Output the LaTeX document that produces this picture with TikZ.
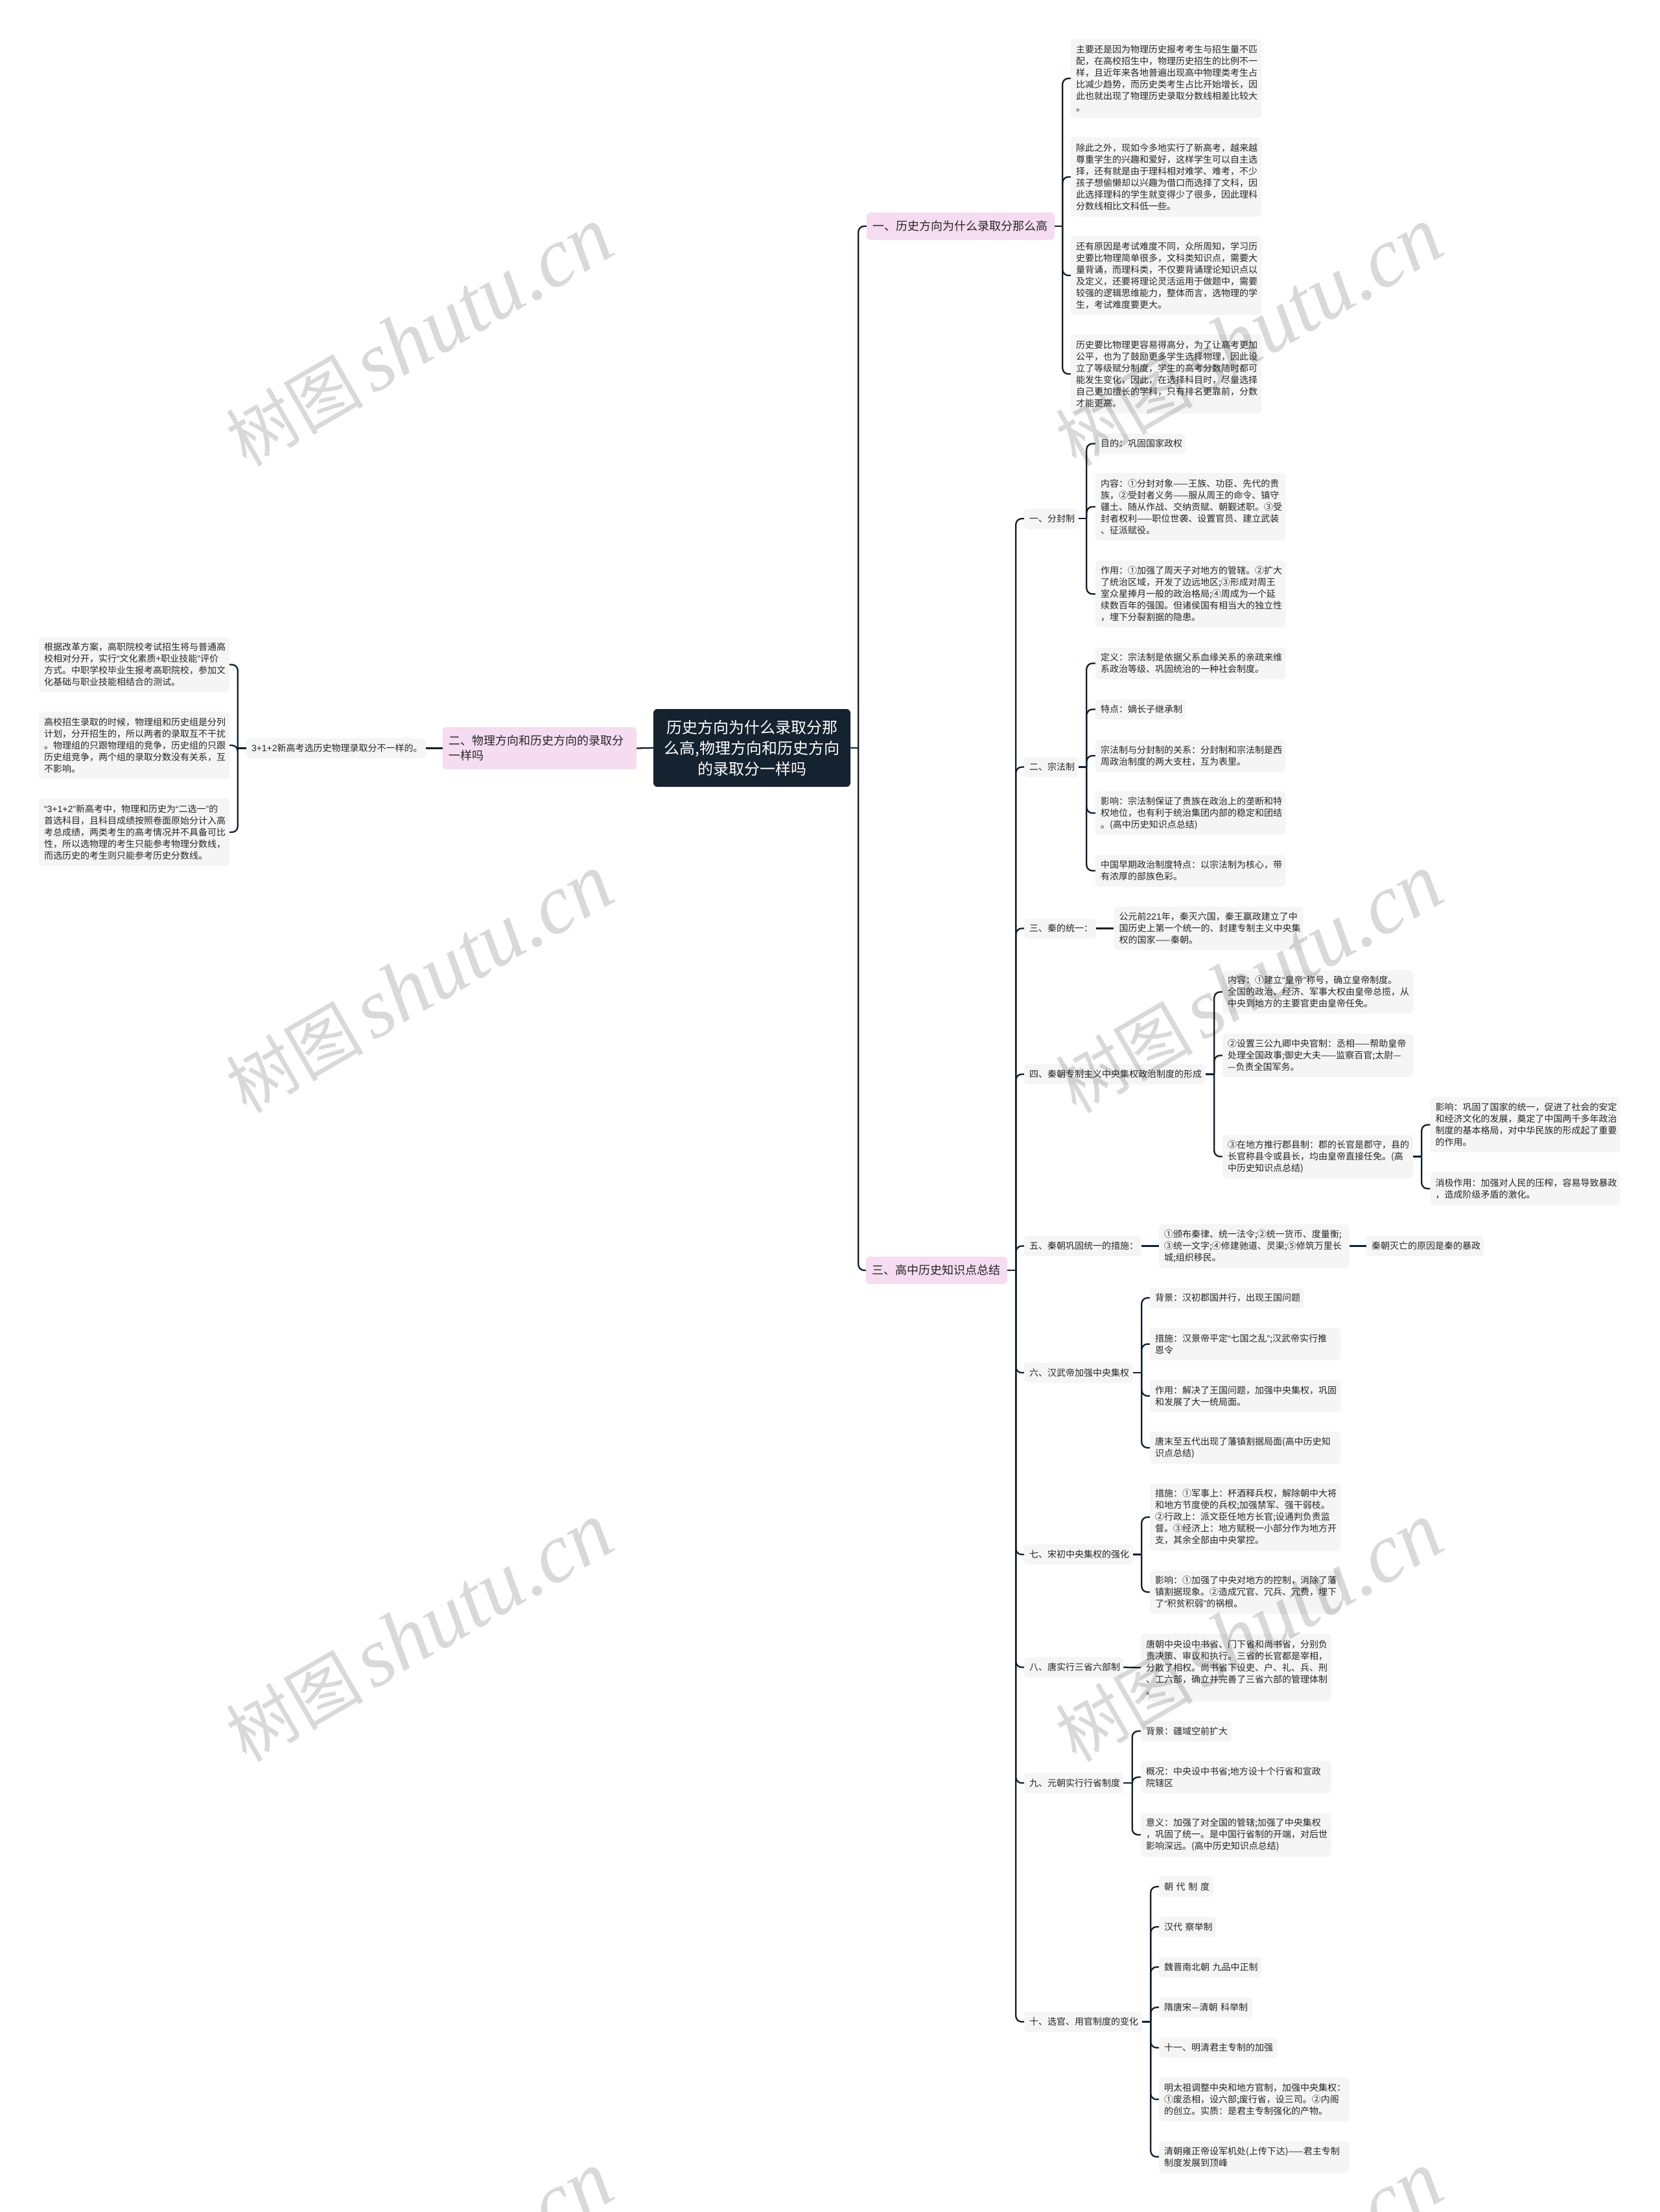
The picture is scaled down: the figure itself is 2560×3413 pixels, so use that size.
\documentclass[tikz,border=0pt]{standalone}
\usepackage{fontspec}
\setmainfont{Noto Sans CJK SC}
\newfontfamily\latf{Liberation Sans}
\newfontfamily\wmlat{Liberation Serif}
\newcommand{\qlo}{{\latf “}}
\newcommand{\qrc}{{\latf ”}}
\definecolor{inkline}{HTML}{0F1E2D}
\definecolor{rootfill}{HTML}{15222F}
\definecolor{branchfill}{HTML}{F5DCF0}
\definecolor{leaffill}{HTML}{F5F5F5}
\definecolor{leaftext}{HTML}{262626}
\tikzset{
  x=1pt,y=-1pt,
  boxbase/.style={rectangle,rounded corners=6pt,inner xsep=8pt,inner ysep=0pt,align=left},
  leafbox/.style={boxbase,fill=leaffill,text=leaftext,font=\fontsize{14}{18}\selectfont},
  branchbox/.style={boxbase,fill=branchfill,text=black!85,inner xsep=9pt,font=\fontsize{18}{23}\selectfont},
  rootbox/.style={boxbase,fill=rootfill,text=white,align=center,font=\fontsize{24}{32}\selectfont},
  link/.style={draw=inkline,line width=2.3pt},
  wmark/.style={text=black,text opacity=0.15,rotate=30,inner sep=0pt},
}
\newcommand{\nd}[7]{%
  \pgfmathsetmacro\cx{(#3+#5)/2}\pgfmathsetmacro\cy{(#4+#6)/2}%
  \pgfmathsetmacro\ww{#5-#3}\pgfmathsetmacro\hh{#6-#4}\pgfmathsetmacro\tw{#5-#3-16}%
  \node[#2,minimum width=\ww pt,minimum height=\hh pt,text width=\tw pt] (#1) at (\cx,\cy) {#7};}
\newcommand{\busR}[3]{%
  \draw[link] (#1.east) -- ++(#2,0) coordinate (t#1);
  \foreach \c in {#3} {\draw[link,rounded corners=9pt] (t#1) |- (\c.west);}}
\newcommand{\busL}[3]{%
  \draw[link] (#1.west) -- ++(-#2,0) coordinate (t#1);
  \foreach \c in {#3} {\draw[link,rounded corners=9pt] (t#1) |- (\c.east);}}
\begin{document}
\begin{tikzpicture}
\useasboundingbox (0,0) rectangle (2560,3413);
\fill[white] (0,0) rectangle (2560,3413);
% root
\nd{root}{rootbox}{1008}{1094}{1312}{1214}{历史方向为什么录取分那\\么高,物理方向和历史方向\\的录取分一样吗}
% branches
\nd{ba}{branchbox}{1338}{328}{1626}{370}{一、历史方向为什么录取分那么高}
\nd{bb}{branchbox}{684}{1122}{981}{1187}{二、物理方向和历史方向的录取分\\一样吗}
\nd{bc}{branchbox}{1337}{1939}{1553}{1981}{三、高中历史知识点总结}
% section 1 leaves
\nd{a1}{leafbox}{1652}{60}{1946}{182}{主要还是因为物理历史报考考生与招生量不匹\\配，在高校招生中，物理历史招生的比例不一\\样，且近年来各地普遍出现高中物理类考生占\\比减少趋势，而历史类考生占比开始增长，因\\此也就出现了物理历史录取分数线相差比较大\\。}
\nd{a2}{leafbox}{1652}{212}{1946}{334}{除此之外，现如今多地实行了新高考，越来越\\尊重学生的兴趣和爱好，这样学生可以自主选\\择，还有就是由于理科相对难学、难考，不少\\孩子想偷懒却以兴趣为借口而选择了文科，因\\此选择理科的学生就变得少了很多，因此理科\\分数线相比文科低一些。}
\nd{a3}{leafbox}{1652}{364}{1946}{486}{还有原因是考试难度不同，众所周知，学习历\\史要比物理简单很多，文科类知识点，需要大\\量背诵，而理科类，不仅要背诵理论知识点以\\及定义，还要将理论灵活运用于做题中，需要\\较强的逻辑思维能力，整体而言，选物理的学\\生，考试难度要更大。}
\nd{a4}{leafbox}{1652}{516}{1946}{638}{历史要比物理更容易得高分，为了让高考更加\\公平，也为了鼓励更多学生选择物理，因此设\\立了等级赋分制度，学生的高考分数随时都可\\能发生变化，因此，在选择科目时，尽量选择\\自己更加擅长的学科，只有排名更靠前，分数\\才能更高。}
% left side
\nd{l0}{leafbox}{380}{1139}{657}{1170}{{\latf 3+1+2}新高考选历史物理录取分不一样的。}
\nd{l1}{leafbox}{60}{983}{354}{1068}{根据改革方案，高职院校考试招生将与普通高\\校相对分开，实行\qlo 文化素质+职业技能\qrc 评价\\方式。中职学校毕业生报考高职院校，参加文\\化基础与职业技能相结合的测试。}
\nd{l2}{leafbox}{60}{1098}{354}{1202}{高校招生录取的时候，物理组和历史组是分列\\计划，分开招生的，所以两者的录取互不干扰\\。物理组的只跟物理组的竞争，历史组的只跟\\历史组竞争，两个组的录取分数没有关系，互\\不影响。}
\nd{l3}{leafbox}{60}{1232}{354}{1336}{\qlo{\latf 3+1+2}\qrc 新高考中，物理和历史为\qlo 二选一\qrc 的\\首选科目，且科目成绩按照卷面原始分计入高\\考总成绩，两类考生的高考情况并不具备可比\\性，所以选物理的考生只能参考物理分数线，\\而选历史的考生则只能参考历史分数线。}
% section 3 level 2
\nd{s1}{leafbox}{1580}{784.5}{1663.6}{816}{一、分封制}
\nd{s2}{leafbox}{1580}{1168}{1663.6}{1199}{二、宗法制}
\nd{s3}{leafbox}{1580}{1417}{1691}{1448}{三、秦的统一：}
\nd{s4}{leafbox}{1580}{1642}{1859.5}{1673}{四、秦朝专制主义中央集权政治制度的形成}
\nd{s5}{leafbox}{1580}{1907}{1761}{1938}{五、秦朝巩固统一的措施：}
\nd{s6}{leafbox}{1580}{2102.5}{1748}{2133.5}{六、汉武帝加强中央集权}
\nd{s7}{leafbox}{1580}{2383}{1748}{2414}{七、宋初中央集权的强化}
\nd{s8}{leafbox}{1580}{2557}{1733}{2588}{八、唐实行三省六部制}
\nd{s9}{leafbox}{1580}{2735}{1733}{2767}{九、元朝实行行省制度}
\nd{s10}{leafbox}{1580}{3104}{1762}{3135}{十、选官、用官制度的变化}
% s1 children
\nd{c11}{leafbox}{1690}{669}{1829}{700}{目的：巩固国家政权}
\nd{c12}{leafbox}{1690}{730}{1983.5}{834}{内容：①分封对象——王族、功臣、先代的贵\\族，②受封者义务——服从周王的命令、镇守\\疆土、随从作战、交纳贡赋、朝觐述职。③受\\封者权利——职位世袭、设置官员、建立武装\\、征派赋役。}
\nd{c13}{leafbox}{1690}{865}{1983.5}{968}{作用：①加强了周天子对地方的管辖。②扩大\\了统治区域，开发了边远地区;③形成对周王\\室众星捧月一般的政治格局;④周成为一个延\\续数百年的强国。但诸侯国有相当大的独立性\\，埋下分裂割据的隐患。}
% s2 children
\nd{c21}{leafbox}{1690}{999}{1983.5}{1048}{定义：宗法制是依据父系血缘关系的亲疏来维\\系政治等级、巩固统治的一种社会制度。}
\nd{c22}{leafbox}{1690}{1079}{1829}{1110}{特点：嫡长子继承制}
\nd{c23}{leafbox}{1690}{1141}{1983.5}{1191}{宗法制与分封制的关系：分封制和宗法制是西\\周政治制度的两大支柱，互为表里。}
\nd{c24}{leafbox}{1690}{1221}{1983.5}{1288}{影响：宗法制保证了贵族在政治上的垄断和特\\权地位，也有利于统治集团内部的稳定和团结\\。(高中历史知识点总结)}
\nd{c25}{leafbox}{1690}{1319}{1983.5}{1368}{中国早期政治制度特点：以宗法制为核心，带\\有浓厚的部族色彩。}
% s3
\nd{c31}{leafbox}{1718.6}{1399}{2010.6}{1466}{公元前{\latf 221}年，秦灭六国，秦王嬴政建立了中\\国历史上第一个统一的、封建专制主义中央集\\权的国家——秦朝。}
% s4
\nd{c41}{leafbox}{1886}{1497}{2180}{1564}{内容：①建立\qlo 皇帝\qrc 称号，确立皇帝制度。\\全国的政治、经济、军事大权由皇帝总揽，从\\中央到地方的主要官吏由皇帝任免。}
\nd{c42}{leafbox}{1886}{1595}{2180}{1662}{②设置三公九卿中央官制：丞相——帮助皇帝\\处理全国政事;御史大夫——监察百官;太尉—\\—负责全国军务。}
\nd{c43}{leafbox}{1886}{1751}{2180}{1818}{③在地方推行郡县制：郡的长官是郡守，县的\\长官称县令或县长，均由皇帝直接任免。(高\\中历史知识点总结)}
\nd{c431}{leafbox}{2206.5}{1693}{2499}{1778}{影响：巩固了国家的统一，促进了社会的安定\\和经济文化的发展，奠定了中国两千多年政治\\制度的基本格局，对中华民族的形成起了重要\\的作用。}
\nd{c432}{leafbox}{2206.5}{1809}{2499}{1859}{消极作用：加强对人民的压榨，容易导致暴政\\，造成阶级矛盾的激化。}
% s5
\nd{c51}{leafbox}{1788}{1889}{2081.5}{1956}{①颁布秦律、统一法令;②统一货币、度量衡;\\③统一文字;④修建驰道、灵渠;⑤修筑万里长\\城;组织移民。}
\nd{c52}{leafbox}{2108}{1907}{2289}{1938}{秦朝灭亡的原因是秦的暴政}
% s6
\nd{c61}{leafbox}{1774}{1987}{2011.5}{2018}{背景：汉初郡国并行，出现王国问题}
\nd{c62}{leafbox}{1774}{2049}{2068}{2098.6}{措施：汉景帝平定\qlo 七国之乱\qrc;汉武帝实行推\\恩令}
\nd{c63}{leafbox}{1774}{2129}{2068}{2178.6}{作用：解决了王国问题，加强中央集权，巩固\\和发展了大一统局面。}
\nd{c64}{leafbox}{1774}{2209}{2068}{2258.6}{唐末至五代出现了藩镇割据局面(高中历史知\\识点总结)}
% s7
\nd{c71}{leafbox}{1774}{2289}{2068}{2392.5}{措施：①军事上：杯酒释兵权，解除朝中大将\\和地方节度使的兵权;加强禁军、强干弱枝。\\②行政上：派文臣任地方长官;设通判负责监\\督。③经济上：地方赋税一小部分作为地方开\\支，其余全部由中央掌控。}
\nd{c72}{leafbox}{1774}{2423}{2068}{2490}{影响：①加强了中央对地方的控制，消除了藩\\镇割据现象。②造成冗官、冗兵、冗费，埋下\\了\qlo 积贫积弱\qrc 的祸根。}
% s8
\nd{c81}{leafbox}{1760}{2521}{2053.6}{2625}{唐朝中央设中书省、门下省和尚书省，分别负\\责决策、审议和执行。三省的长官都是宰相，\\分散了相权。尚书省下设吏、户、礼、兵、刑\\、工六部，确立并完善了三省六部的管理体制\\。}
% s9
\nd{c91}{leafbox}{1760}{2655}{1900}{2687}{背景：疆域空前扩大}
\nd{c92}{leafbox}{1760}{2717}{2053.6}{2767}{概况：中央设中书省;地方设十个行省和宣政\\院辖区}
\nd{c93}{leafbox}{1760}{2797}{2053.6}{2865}{意义：加强了对全国的管辖;加强了中央集权\\，巩固了统一。是中国行省制的开端，对后世\\影响深远。(高中历史知识点总结)}
% s10
\nd{d1}{leafbox}{1788}{2895}{1872}{2927}{\mbox{朝 代 制 度}}
\nd{d2}{leafbox}{1788}{2957}{1876}{2989}{\mbox{汉代 察举制}}
\nd{d3}{leafbox}{1788}{3019}{1945.7}{3051}{\mbox{魏晋南北朝 九品中正制}}
\nd{d4}{leafbox}{1788}{3081.5}{1932}{3113}{\mbox{隋唐宋—清朝 科举制}}
\nd{d5}{leafbox}{1788}{3144}{1970}{3175}{十一、明清君主专制的加强}
\nd{d6}{leafbox}{1788}{3205.5}{2081.5}{3273}{明太祖调整中央和地方官制，加强中央集权：\\①废丞相，设六部;废行省，设三司。②内阁\\的创立。实质：是君主专制强化的产物。}
\nd{d7}{leafbox}{1788}{3303}{2081.5}{3352.6}{清朝雍正帝设军机处(上传下达)——君主专制\\制度发展到顶峰}
% connectors
\busR{root}{12}{ba,bc}
\draw[link] (root.west) -- (bb.east);
\draw[link] (bb.west) -- (l0.east);
\busL{l0}{13}{l1,l2,l3}
\busR{ba}{12}{a1,a2,a3,a4}
\busR{bc}{13}{s1,s2,s3,s4,s5,s6,s7,s8,s9,s10}
\busR{s1}{12.5}{c11,c12,c13}
\busR{s2}{12.5}{c21,c22,c23,c24,c25}
\draw[link] (s3.east) -- (c31.west);
\busR{s4}{13.5}{c41,c42,c43}
\busR{c43}{13}{c431,c432}
\draw[link] (s5.east) -- (c51.west);
\draw[link] (c51.east) -- (c52.west);
\busR{s6}{13}{c61,c62,c63,c64}
\busR{s7}{13}{c71,c72}
\draw[link] (s8.east) -- (c81.west);
\busR{s9}{13.5}{c91,c92,c93}
\busR{s10}{13}{d1,d2,d3,d4,d5,d6,d7}
% watermarks
\begin{scope}
\clip (0,0) rectangle (2560,3413);
\foreach \mx/\my/\mn in {647/520/1,1927/520/2,647/1518/3,1927/1518/4,647/2519/5,1927/2519/6,647/3520/7,1927/3520/8}{
  \node[wmark] (wm\mn) at (\mx,\my) {\fontsize{106}{120}\selectfont 树图\hspace{14pt}{\wmlat\itshape\fontsize{130}{140}\selectfont shutu.cn}};
}
\end{scope}
\end{tikzpicture}
\end{document}
